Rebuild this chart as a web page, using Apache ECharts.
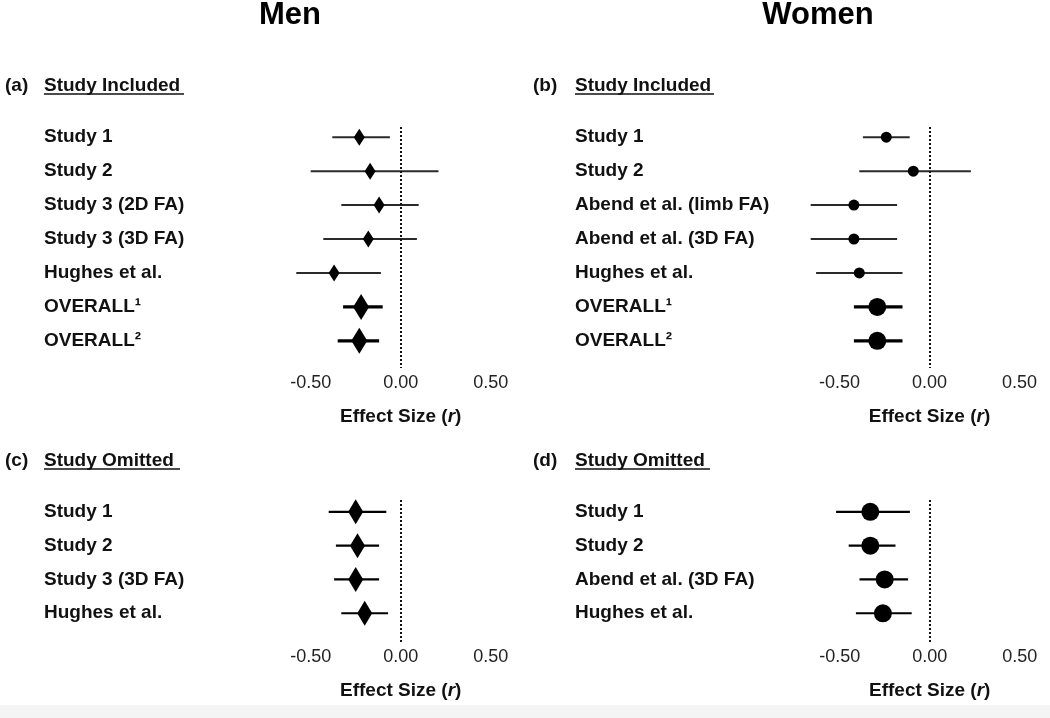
<!DOCTYPE html>
<html>
<head>
<meta charset="utf-8">
<script src="https://cdn.jsdelivr.net/npm/echarts@6/dist/echarts.min.js"></script>
<style>html,body{margin:0;padding:0;background:#fff}#c{width:1050px;height:718px}</style>
</head>
<body>
<div id="c"></div>
<script>
// ---- data ----
const menIncludedLabels = ['Study 1', 'Study 2', 'Study 3 (2D FA)', 'Study 3 (3D FA)', 'Hughes et al.', 'OVERALL\u00B9', 'OVERALL\u00B2'];
const menIncludedR  = [-0.23, -0.17, -0.12, -0.18, -0.37, -0.22, -0.23];
const menIncludedLo = [-0.38, -0.50, -0.33, -0.43, -0.58, -0.32, -0.35];
const menIncludedHi = [-0.06,  0.21,  0.10,  0.09, -0.11, -0.10, -0.12];

const womenIncludedLabels = ['Study 1', 'Study 2', 'Abend et al. (limb FA)', 'Abend et al. (3D FA)', 'Hughes et al.', 'OVERALL\u00B9', 'OVERALL\u00B2'];
const womenIncludedR  = [-0.24, -0.09, -0.42, -0.42, -0.39, -0.29, -0.29];
const womenIncludedLo = [-0.37, -0.39, -0.66, -0.66, -0.63, -0.42, -0.42];
const womenIncludedHi = [-0.11,  0.23, -0.18, -0.18, -0.15, -0.15, -0.15];

const menOmittedLabels = ['Study 1', 'Study 2', 'Study 3 (3D FA)', 'Hughes et al.'];
const menOmittedR  = [-0.25, -0.24, -0.25, -0.20];
const menOmittedLo = [-0.40, -0.36, -0.37, -0.33];
const menOmittedHi = [-0.08, -0.12, -0.12, -0.07];

const womenOmittedLabels = ['Study 1', 'Study 2', 'Abend et al. (3D FA)', 'Hughes et al.'];
const womenOmittedR  = [-0.33, -0.33, -0.25, -0.26];
const womenOmittedLo = [-0.52, -0.45, -0.39, -0.41];
const womenOmittedHi = [-0.11, -0.19, -0.12, -0.10];

const xTickValues = [-0.5, 0, 0.5];
const columnTitles = ['Men', 'Women'];
const panelTags = ['(a)', '(b)', '(c)', '(d)'];
const panelHeadings = ['Study Included', 'Study Included', 'Study Omitted', 'Study Omitted'];

// ---- layout ----
const FONT = "'Liberation Sans', Arial, Helvetica, sans-serif";
const PXU = 180; // px per unit r
const panels = [
  {labels: menIncludedLabels, r: menIncludedR, lo: menIncludedLo, hi: menIncludedHi, zero: 400.7, half: 0.75, top: 127, height: 241, ymin: -0.3, ymax: 6.8, labelX: 44, shape: 'diamond', kind: 'inc'},
  {labels: womenIncludedLabels, r: womenIncludedR, lo: womenIncludedLo, hi: womenIncludedHi, zero: 929.5, half: 0.66, top: 127, height: 241, ymin: -0.3, ymax: 6.8, labelX: 575, shape: 'circle', kind: 'inc'},
  {labels: menOmittedLabels, r: menOmittedR, lo: menOmittedLo, hi: menOmittedHi, zero: 400.7, half: 0.75, top: 500, height: 142, ymin: -0.35, ymax: 3.85, labelX: 44, shape: 'diamond', kind: 'omit'},
  {labels: womenOmittedLabels, r: womenOmittedR, lo: womenOmittedLo, hi: womenOmittedHi, zero: 929.7, half: 0.66, top: 500, height: 142, ymin: -0.35, ymax: 3.85, labelX: 575, shape: 'circle', kind: 'omit'}
];

function markerSize(p, overall) {
  if (p.shape === 'diamond') {
    if (p.kind === 'omit') return [15, 25];
    return overall ? [16, 26] : [11, 17];
  } else {
    if (p.kind === 'omit') return 18;
    return overall ? 18 : 11;
  }
}

const grid = [], xAxis = [], yAxis = [], series = [];
panels.forEach((p, k) => {
  const left = p.zero - p.half * PXU;
  grid.push({left: left, top: p.top, width: 2 * p.half * PXU, height: p.height});
  xAxis.push({
    type: 'value', gridIndex: k, min: -p.half, max: p.half,
    axisLine: {show: false}, axisTick: {show: false}, splitLine: {show: false},
    axisLabel: {customValues: xTickValues, formatter: v => v.toFixed(2), fontSize: 18, color: '#222', fontFamily: FONT, margin: 6},
    name: '{b|Effect Size (}{i|r}{b|)}', nameLocation: 'middle', nameGap: 39,
    nameTextStyle: {rich: {
      b: {fontSize: 19, fontWeight: 'bold', color: '#111', fontFamily: FONT},
      i: {fontSize: 19, fontWeight: 'bold', fontStyle: 'italic', color: '#111', fontFamily: FONT}
    }}
  });
  yAxis.push({
    type: 'value', gridIndex: k, inverse: true, min: p.ymin, max: p.ymax,
    axisLine: {show: false}, axisTick: {show: false}, splitLine: {show: false},
    axisLabel: {customValues: p.labels.map((_, i) => i), formatter: v => p.labels[Math.round(v)] || '',
      align: 'left', margin: left - p.labelX, fontSize: 19, fontWeight: 'bold', color: '#111', fontFamily: FONT}
  });
  series.push({
    type: 'custom', xAxisIndex: k, yAxisIndex: k, silent: true, z: 2, clip: false,
    data: p.labels.map((_, i) => [i, p.lo[i], p.hi[i]]),
    encode: {x: [1, 2], y: 0},
    renderItem: (params, api) => {
      const y = api.value(0);
      const a = api.coord([api.value(1), y]);
      const b = api.coord([api.value(2), y]);
      const overall = p.labels[params.dataIndex].indexOf('OVERALL') === 0;
      const lw = overall ? 3.4 : (p.kind === 'omit' ? 2.2 : 2);
      return {type: 'line', shape: {x1: a[0], y1: a[1], x2: b[0], y2: b[1]},
        style: {stroke: overall || p.kind === 'omit' ? '#000' : '#2a2a2a', lineWidth: lw}};
    }
  });
  series.push({
    type: 'scatter', xAxisIndex: k, yAxisIndex: k, silent: true, z: 3, clip: false,
    symbol: p.shape,
    data: p.labels.map((_, i) => [p.r[i], i]),
    symbolSize: (val, params) => markerSize(p, p.labels[params.dataIndex].indexOf('OVERALL') === 0),
    itemStyle: {color: '#000', opacity: 1},
    markLine: {silent: true, symbol: 'none', label: {show: false}, animation: false,
      lineStyle: {type: [2, 2], width: 2, color: '#111'},
      data: [{xAxis: 0}]}
  });
});

const graphic = [
  {type: 'rect', shape: {x: 0, y: 705, width: 1050, height: 13}, style: {fill: '#f4f4f4'}, z: -10},
  {type: 'text', x: 290, y: 15, style: {text: columnTitles[0], font: 'bold 31px ' + FONT, fill: '#000', align: 'center', verticalAlign: 'middle', textAlign: 'center', textVerticalAlign: 'middle'}},
  {type: 'text', x: 818, y: 15, style: {text: columnTitles[1], font: 'bold 31px ' + FONT, fill: '#000', align: 'center', verticalAlign: 'middle', textAlign: 'center', textVerticalAlign: 'middle'}}
];
const headPos = [
  {tx: 5, hx: 44, y: 86, ux2: 184},
  {tx: 533, hx: 575, y: 86, ux2: 714},
  {tx: 5, hx: 44, y: 461, ux2: 180},
  {tx: 533, hx: 575, y: 461, ux2: 710}
];
headPos.forEach((h, k) => {
  graphic.push({type: 'text', x: h.tx, y: h.y, style: {text: panelTags[k], font: 'bold 19px ' + FONT, fill: '#111', align: 'left', verticalAlign: 'middle', textAlign: 'left', textVerticalAlign: 'middle'}});
  graphic.push({type: 'text', x: h.hx, y: h.y, style: {text: panelHeadings[k], font: 'bold 19px ' + FONT, fill: '#111', align: 'left', verticalAlign: 'middle', textAlign: 'left', textVerticalAlign: 'middle'}});
  graphic.push({type: 'line', shape: {x1: h.hx, y1: h.y + 8, x2: h.ux2, y2: h.y + 8}, style: {stroke: '#111', lineWidth: 1.6}});
});

const chart = echarts.init(document.getElementById('c'), null, {renderer: 'canvas'});
chart.setOption({
  animation: false,
  backgroundColor: '#fff',
  grid, xAxis, yAxis, series, graphic
});
</script>
</body>
</html>
